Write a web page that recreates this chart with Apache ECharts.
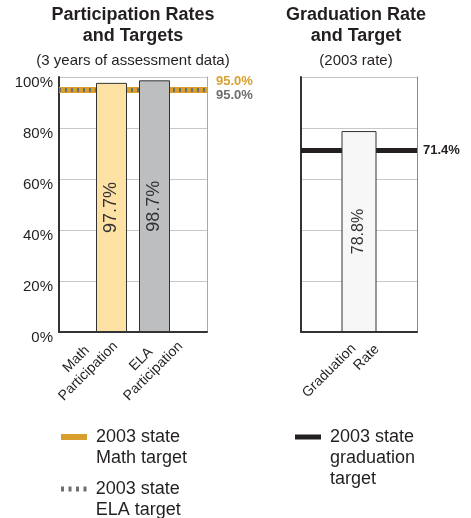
<!DOCTYPE html>
<html>
<head>
<meta charset="utf-8">
<script src="https://cdn.jsdelivr.net/npm/echarts@6/dist/echarts.min.js"></script>
<style>html,body{margin:0;padding:0;background:#fff}#c{width:471px;height:518px}</style>
</head>
<body>
<div id="c"></div>
<script>
// ---- data ----
const partCategories = ['Math\nParticipation', 'ELA\nParticipation'];
const partValues = [97.7, 98.7];          // Math, ELA participation (%)
const partTargets = [95.0, 95.0];         // 2003 state Math target, ELA target
const gradCategories = ['Graduation\nRate'];
const gradValues = [78.8];
const gradTargets = [71.4];
const yTickMin = 0, yTickMax = 100, yTickStep = 20;
const legendNames = ['2003 state\nMath target', '2003 state\nELA target', '2003 state\ngraduation\ntarget'];
const titles = ['Participation Rates\nand Targets', 'Graduation Rate\nand Target'];
const subtitles = ['(3 years of assessment data)', '(2003 rate)'];

// ---- style ----
const FONT = 'Liberation Sans, Arial, Helvetica, sans-serif';
const INK = '#231f20';
const ORANGE = '#d99f2e';
const GRAY = '#6d6e70';
const GRID = '#c8c8c8';
const pct1 = v => Number(v).toFixed(1) + '%';
// put the first text line level with the legend swatch
const legendFmt = name => '\n'.repeat(name.split('\n').length - 1) + name;

const chart = echarts.init(document.getElementById('c'), null, {renderer: 'canvas'});

const valueAxisBase = {type: 'value', min: yTickMin, max: yTickMax, interval: yTickStep};
const legendText = {fontSize: 18, lineHeight: 21, color: INK, fontFamily: FONT, padding: [0, 0, 0, 4]};

const option = {
  animation: false,
  textStyle: {fontFamily: FONT, color: INK},
  title: [
    {text: titles[0], subtext: subtitles[0], left: 133, top: 5, textAlign: 'center', padding: 0, itemGap: 5,
     textStyle: {fontSize: 18, fontWeight: 'bold', lineHeight: 21, color: INK, fontFamily: FONT},
     subtextStyle: {fontSize: 15, lineHeight: 17, color: INK, fontFamily: FONT}},
    {text: titles[1], subtext: subtitles[1], left: 356, top: 5, textAlign: 'center', padding: 0, itemGap: 5,
     textStyle: {fontSize: 18, fontWeight: 'bold', lineHeight: 21, color: INK, fontFamily: FONT},
     subtextStyle: {fontSize: 15, lineHeight: 17, color: INK, fontFamily: FONT}}
  ],
  legend: [
    {data: [{name: legendNames[0], icon: 'rect', itemStyle: {color: ORANGE}}], formatter: legendFmt,
     left: 61, top: 405.5, orient: 'vertical', padding: 0, itemWidth: 26, itemHeight: 6, selectedMode: false,
     textStyle: legendText},
    {data: [{name: legendNames[1], icon: 'path://M0,0h3v5h-3zM7.5,0h3v5h-3zM15,0h3v5h-3zM22.5,0h3v5h-3z', itemStyle: {color: GRAY}}],
     formatter: legendFmt,
     left: 61, top: 457.5, orient: 'vertical', padding: 0, itemWidth: 26, itemHeight: 5, selectedMode: false,
     textStyle: legendText},
    {data: [{name: legendNames[2], icon: 'rect', itemStyle: {color: INK}}], formatter: legendFmt,
     left: 295, top: 384.5, orient: 'vertical', padding: 0, itemWidth: 26, itemHeight: 5, selectedMode: false,
     textStyle: legendText}
  ],
  grid: [
    {left: 59, top: 77, width: 148, height: 255, outerBoundsMode: 'none'},   // participation plot
    {left: 77, top: 77, width: 130, height: 255, outerBoundsMode: 'none'},   // participation labels
    {left: 301, top: 77, width: 116, height: 255, outerBoundsMode: 'none'},  // graduation plot
    {left: 313, top: 77, width: 116, height: 255, outerBoundsMode: 'none'}   // graduation labels
  ],
  xAxis: [
    {type: 'category', gridIndex: 0, data: partCategories,
     axisLine: {lineStyle: {color: '#333', width: 2}}, axisTick: {show: false}, axisLabel: {show: false}, splitLine: {show: false}},
    {type: 'category', gridIndex: 1, data: partCategories,
     axisLine: {show: false}, axisTick: {show: false}, splitLine: {show: false},
     axisLabel: {interval: 0, rotate: 45, margin: 6,
       formatter: v => v.split('\n').map(l => '{c|' + l + '}').join('\n'),
       rich: {c: {fontSize: 14, lineHeight: 17, align: 'center', color: INK, fontFamily: FONT}}}},
    {type: 'category', gridIndex: 2, data: gradCategories,
     axisLine: {lineStyle: {color: '#333', width: 2}}, axisTick: {show: false}, axisLabel: {show: false}, splitLine: {show: false}},
    {type: 'category', gridIndex: 3, data: gradCategories,
     axisLine: {show: false}, axisTick: {show: false}, splitLine: {show: false},
     axisLabel: {interval: 0, rotate: 45, margin: 9,
       formatter: v => v.split('\n').map((l, i) => (i === 0 ? '{g|' : '{r|') + l + '}').join('\n'),
       rich: {g: {fontSize: 14, lineHeight: 17, align: 'left', padding: [0, 16, 0, 0], color: INK, fontFamily: FONT},
              r: {fontSize: 14, lineHeight: 17, align: 'right', color: INK, fontFamily: FONT}}}}
  ],
  yAxis: [
    Object.assign({}, valueAxisBase, {gridIndex: 0, position: 'left',
      axisLine: {show: true, lineStyle: {color: '#333', width: 2}}, axisTick: {show: false},
      axisLabel: {formatter: '{value}%', fontSize: 15, lineHeight: 12, verticalAlign: 'top', color: INK, margin: 6, fontFamily: FONT},
      splitLine: {show: true, lineStyle: {color: GRID, width: 1}}}),
    Object.assign({}, valueAxisBase, {gridIndex: 0, position: 'right',
      axisLine: {show: true, lineStyle: {color: '#a8a8a8', width: 1}}, axisTick: {show: false},
      axisLabel: {show: false}, splitLine: {show: false}}),
    Object.assign({}, valueAxisBase, {gridIndex: 1, show: false}),
    Object.assign({}, valueAxisBase, {gridIndex: 2, position: 'left',
      axisLine: {show: true, lineStyle: {color: '#333', width: 2}}, axisTick: {show: false},
      axisLabel: {show: false},
      splitLine: {show: true, lineStyle: {color: GRID, width: 1}}}),
    Object.assign({}, valueAxisBase, {gridIndex: 2, position: 'right',
      axisLine: {show: true, lineStyle: {color: '#8a8a8a', width: 1}}, axisTick: {show: false},
      axisLabel: {show: false}, splitLine: {show: false}}),
    Object.assign({}, valueAxisBase, {gridIndex: 3, show: false})
  ],
  series: [
    // target lines (behind bars)
    {name: legendNames[0], type: 'line', xAxisIndex: 0, yAxisIndex: 0, data: partCategories.map(() => null),
     color: ORANGE, lineStyle: {color: ORANGE, width: 6}, symbol: 'none', z: 1, silent: true,
     markLine: {silent: true, z: 1, symbol: ['none', 'none'],
       lineStyle: {color: ORANGE, width: 6, type: 'solid'},
       label: {show: true, position: 'end', distance: 9, formatter: p => pct1(p.value),
               color: ORANGE, fontWeight: 'bold', fontSize: 13, fontFamily: FONT,
               verticalAlign: 'bottom', lineHeight: 17},
       emphasis: {disabled: true},
       data: [{yAxis: partTargets[0]}]}},
    {name: legendNames[1], type: 'line', xAxisIndex: 0, yAxisIndex: 0, data: partCategories.map(() => null),
     color: GRAY, lineStyle: {color: GRAY, width: 4, type: [2, 4]}, symbol: 'none', z: 1, silent: true,
     markLine: {silent: true, z: 1, symbol: ['none', 'none'],
       lineStyle: {color: GRAY, width: 4, type: [2, 4]},
       label: {show: true, position: 'end', distance: 9, formatter: p => pct1(p.value),
               color: GRAY, fontWeight: 'bold', fontSize: 13, fontFamily: FONT,
               verticalAlign: 'top', lineHeight: 11},
       emphasis: {disabled: true},
       data: [{yAxis: partTargets[1]}]}},
    // participation bars: ELA series first (left slot), Math second (right slot)
    {name: 'ELA Participation', type: 'bar', xAxisIndex: 0, yAxisIndex: 0,
     data: partValues.map((v, i) => i === 1 ? v : '-'),
     barWidth: 31, barGap: '0%', z: 3,
     itemStyle: {color: '#bdbec0', borderColor: '#333', borderWidth: 1},
     label: {show: true, position: 'inside', rotate: 90, formatter: p => pct1(p.value),
             fontSize: 18, color: '#333', fontFamily: FONT}},
    {name: 'Math Participation', type: 'bar', xAxisIndex: 0, yAxisIndex: 0,
     data: partValues.map((v, i) => i === 0 ? v : '-'),
     barWidth: 31, barGap: '0%', z: 3,
     itemStyle: {color: '#fde1a5', borderColor: '#333', borderWidth: 1},
     label: {show: true, position: 'inside', rotate: 90, formatter: p => pct1(p.value),
             fontSize: 18, color: '#333', fontFamily: FONT}},
    // graduation target line
    {name: legendNames[2], type: 'line', xAxisIndex: 2, yAxisIndex: 3, data: gradCategories.map(() => null),
     color: INK, lineStyle: {color: INK, width: 5}, symbol: 'none', z: 1, silent: true,
     markLine: {silent: true, z: 1, symbol: ['none', 'none'],
       lineStyle: {color: INK, width: 5, type: 'solid'},
       label: {show: true, position: 'end', distance: 6, formatter: p => pct1(p.value),
               color: INK, fontWeight: 'bold', fontSize: 13, fontFamily: FONT},
       emphasis: {disabled: true},
       data: [{yAxis: gradTargets[0]}]}},
    // graduation bar
    {name: 'Graduation Rate', type: 'bar', xAxisIndex: 2, yAxisIndex: 3, data: gradValues,
     barWidth: 35, z: 3,
     itemStyle: {color: '#f7f7f7', borderColor: '#333', borderWidth: 1},
     label: {show: true, position: 'inside', rotate: 90, formatter: p => pct1(p.value),
             fontSize: 16, color: '#333', fontFamily: FONT}}
  ]
};
chart.setOption(option);
</script>
</body>
</html>
